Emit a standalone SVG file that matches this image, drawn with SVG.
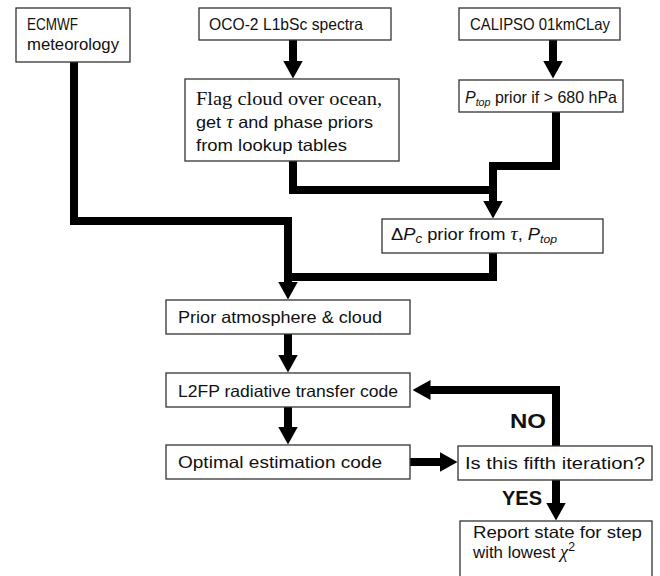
<svg xmlns="http://www.w3.org/2000/svg" width="660" height="576" viewBox="0 0 660 576">
<defs>
<marker id="ah" markerUnits="userSpaceOnUse" markerWidth="18" markerHeight="20" viewBox="0 -10 18 20" refX="0.5" refY="0" orient="auto">
<path d="M0,-10 L18,0 L0,10 z" fill="#000"/>
</marker>
<style>
.box{fill:#fff;stroke:#333;stroke-width:1.3}
.t{font-family:"Liberation Sans",Arial,sans-serif;font-size:16.5px;fill:#111}
.s{font-family:"Liberation Serif","Times New Roman",serif;font-size:18px;fill:#111}
.m{font-family:"Liberation Serif","Times New Roman",serif;font-style:italic}
.b{font-family:"Liberation Sans",Arial,sans-serif;font-size:21px;font-weight:bold;fill:#111}
.c{fill:none;stroke:#000;stroke-width:8;stroke-linejoin:miter;stroke-linecap:butt}
</style>
</defs>
<rect width="660" height="576" fill="#fff"/>
<g id="connectors">
<path class="c" d="M293,40 V61" marker-end="url(#ah)"/>
<path class="c" d="M553,40 V61" marker-end="url(#ah)"/>
<path class="c" d="M293,161 V190 H493"/>
<path class="c" d="M556,112 V166 H493 V201" marker-end="url(#ah)"/>
<path class="c" d="M493,253 V277 H288"/>
<path class="c" d="M74,62 V221 H288 V282" marker-end="url(#ah)"/>
<path class="c" d="M288,334 V355" marker-end="url(#ah)"/>
<path class="c" d="M288,407 V427" marker-end="url(#ah)"/>
<path class="c" d="M410,462 H440" marker-end="url(#ah)"/>
<path class="c" d="M556,446 V390 H430" marker-end="url(#ah)"/>
<path class="c" d="M556,480 V503" marker-end="url(#ah)"/>
</g>
<g id="ecmwf">
<rect class="box" x="16" y="8" width="114" height="54"/>
<text class="t" x="27" y="30" textLength="51" lengthAdjust="spacingAndGlyphs">ECMWF</text>
<text class="t" x="27" y="50" textLength="92" lengthAdjust="spacingAndGlyphs">meteorology</text>
</g>
<g id="oco2">
<rect class="box" x="199" y="8" width="192" height="32"/>
<text class="t" x="209" y="30" textLength="154" lengthAdjust="spacingAndGlyphs">OCO-2 L1bSc spectra</text>
</g>
<g id="calipso">
<rect class="box" x="459" y="8" width="161" height="32"/>
<text class="t" x="470" y="30" textLength="140" lengthAdjust="spacingAndGlyphs">CALIPSO 01kmCLay</text>
</g>
<g id="flag">
<rect class="box" x="185" y="79" width="214" height="82"/>
<text class="s" x="196" y="105" textLength="186" lengthAdjust="spacingAndGlyphs">Flag cloud over ocean,</text>
<text class="t" x="196" y="128" textLength="177" lengthAdjust="spacingAndGlyphs">get <tspan class="m" font-size="18">τ</tspan> and phase priors</text>
<text class="t" x="196" y="151" textLength="151" lengthAdjust="spacingAndGlyphs">from lookup tables</text>
</g>
<g id="ptop">
<rect class="box" x="459" y="80" width="164" height="32"/>
<text class="t" x="465" y="103" textLength="152" lengthAdjust="spacingAndGlyphs"><tspan font-style="italic">P</tspan><tspan font-style="italic" font-size="11" dy="3">top</tspan><tspan dy="-3"> prior if &gt; 680 hPa</tspan></text>
</g>
<g id="deltapc">
<rect class="box" x="382" y="219" width="221" height="34"/>
<text class="t" x="391" y="240" textLength="166" lengthAdjust="spacingAndGlyphs">Δ<tspan font-style="italic">P</tspan><tspan font-style="italic" font-size="12" dy="3">c</tspan><tspan dy="-3"> prior from </tspan><tspan class="m" font-size="18">τ</tspan>, <tspan font-style="italic">P</tspan><tspan font-style="italic" font-size="11" dy="3">top</tspan></text>
</g>
<g id="prior">
<rect class="box" x="166" y="300" width="244" height="34"/>
<text class="t" x="178" y="323" textLength="204" lengthAdjust="spacingAndGlyphs">Prior atmosphere &amp; cloud</text>
</g>
<g id="l2fp">
<rect class="box" x="166" y="373" width="244" height="34"/>
<text class="t" x="178" y="397" textLength="220" lengthAdjust="spacingAndGlyphs">L2FP radiative transfer code</text>
</g>
<g id="optimal">
<rect class="box" x="166" y="445" width="244" height="34"/>
<text class="t" x="178" y="468" textLength="204" lengthAdjust="spacingAndGlyphs">Optimal estimation code</text>
</g>
<g id="fifth">
<rect class="box" x="458" y="446" width="194" height="34"/>
<text class="t" x="465" y="469" textLength="180" lengthAdjust="spacingAndGlyphs">Is this fifth iteration?</text>
</g>
<g id="report">
<rect class="box" x="460" y="521" width="192" height="62"/>
<text class="t" x="473" y="538" textLength="169" lengthAdjust="spacingAndGlyphs">Report state for step</text>
<text class="t" x="473" y="558" textLength="102" lengthAdjust="spacingAndGlyphs">with lowest <tspan class="m" font-size="18">χ</tspan><tspan font-size="12" dy="-7">2</tspan></text>
</g>
<g id="labels">
<text class="b" x="510" y="428" textLength="36" lengthAdjust="spacingAndGlyphs">NO</text>
<text class="b" x="502" y="505" textLength="40" lengthAdjust="spacingAndGlyphs">YES</text>
</g>
</svg>
